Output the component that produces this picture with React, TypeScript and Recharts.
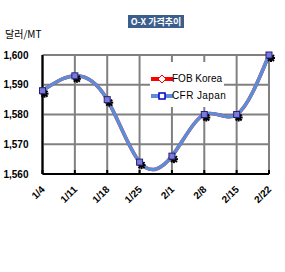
import { LineChart, Line, XAxis, YAxis, CartesianGrid, Legend } from 'recharts';

const WEEKS = ['1/4', '1/11', '1/18', '1/25', '2/1', '2/8', '2/15', '2/22'];
const FOB_KOREA = [1588, 1593, 1585, 1564, 1566, 1580, 1580, 1600];
const CFR_JAPAN = [1588, 1593, 1585, 1564, 1566, 1580, 1580, 1600];
const Y_TICKS = [1560, 1570, 1580, 1590, 1600];

const data = WEEKS.map((week, i) => ({ week, fob: FOB_KOREA[i], cfr: CFR_JAPAN[i] }));

const BLUE = '#5b8ed6';
const FONT = '"Liberation Sans", Arial, sans-serif';

function WeekTick({ x, y, payload }: any) {
  const ax = x + 3;
  const ay = y + 20;
  return (
    <text x={ax} y={ay} textAnchor="end" transform={`rotate(-45 ${ax} ${ay})`} fontFamily={FONT} fontSize={10} fontWeight="bold" fill="#000">
      {payload.value}
    </text>
  );
}

function StarDot({ cx, cy }: any) {
  if (cx == null || cy == null) return null;
  const x = cx + 2;
  const y = cy + 3;
  return (
    <g stroke="#000" strokeWidth={2}>
      <line x1={x - 4} y1={y} x2={x + 4} y2={y} />
      <line x1={x} y1={y - 4} x2={x} y2={y + 4} />
      <line x1={x - 3} y1={y - 3} x2={x + 3} y2={y + 3} />
      <line x1={x - 3} y1={y + 3} x2={x + 3} y2={y - 3} />
    </g>
  );
}

function SquareDot({ cx, cy }: any) {
  if (cx == null || cy == null) return null;
  return <rect x={cx - 3} y={cy - 3} width={6} height={6} fill="#7b7bd6" stroke="#23237e" strokeWidth={1} />;
}

function LegendBox() {
  return (
    <div style={{ background: '#fff', width: 74, height: 45, fontFamily: FONT, fontSize: 10, color: '#000', whiteSpace: 'nowrap' }}>
      <div style={{ position: 'relative', height: 17 }}>
        <svg width={22} height={10} style={{ position: 'absolute', left: 1, top: 12 }}>
          <line x1={0} y1={5} x2={22} y2={5} stroke="#ff0000" strokeWidth={4} />
          <path d="M11 1 L15 5 L11 9 L7 5 Z" fill="#fff" stroke="#ff0000" strokeWidth={1} />
        </svg>
        <span style={{ position: 'absolute', left: 22, top: 11, lineHeight: '12px' }}>FOB Korea</span>
      </div>
      <div style={{ position: 'relative', height: 18 }}>
        <svg width={22} height={10} style={{ position: 'absolute', left: 1, top: 12 }}>
          <line x1={0} y1={5} x2={22} y2={5} stroke={BLUE} strokeWidth={4} />
          <rect x={8} y={2} width={6} height={6} fill="#fff" stroke="#0000cc" strokeWidth={1.5} />
        </svg>
        <span style={{ position: 'absolute', left: 22, top: 11, lineHeight: '12px', letterSpacing: 0.4 }}>CFR Japan</span>
      </div>
    </div>
  );
}

export default function App() {
  return (
    <div style={{ position: 'absolute', left: 0, top: 0, width: 285, height: 272, background: '#fff' }}>
      <div
        style={{
          position: 'absolute', left: 128, top: 15, width: 56, height: 13, background: '#3b5e8c', color: '#fff',
          fontFamily: '"Noto Sans CJK KR", sans-serif', fontSize: 9, fontWeight: 'bold', lineHeight: '13px',
          textAlign: 'center', whiteSpace: 'nowrap', zIndex: 2,
        }}
      >
        O-X 가격추이
      </div>
      <div
        style={{
          position: 'absolute', left: 5, top: 26, fontFamily: '"Noto Sans CJK KR", sans-serif', fontSize: 10,
          color: '#000', whiteSpace: 'nowrap', zIndex: 2,
        }}
      >
        달러/MT
      </div>
      <LineChart width={285} height={272} data={data} margin={{ top: 55, right: 16, left: 0, bottom: 0 }}>
        <CartesianGrid stroke="#808080" strokeWidth={2} />
        <XAxis
          dataKey="week"
          height={53}
          interval={0}
          tick={<WeekTick />}
          tickSize={-4}
          tickMargin={0}
          tickLine={{ stroke: '#000', strokeWidth: 2 }}
          axisLine={{ stroke: '#000', strokeWidth: 2 }}
        />
        <YAxis
          width={42.5}
          domain={[1560, 1600]}
          ticks={Y_TICKS}
          tickFormatter={(v: number) => v.toLocaleString('en-US')}
          tickSize={0}
          tickMargin={14}
          tick={{ fontFamily: FONT, fontSize: 10, fontWeight: 'bold', fill: '#000' }}
          axisLine={{ stroke: '#000', strokeWidth: 2 }}
        />
        <Legend content={<LegendBox />} wrapperStyle={{ position: 'absolute', left: 150, top: 62, width: 74, height: 45 }} />
        <Line type="natural" dataKey="fob" name="FOB Korea" stroke="#ff0000" strokeWidth={3.5} dot={<StarDot />} isAnimationActive={false} />
        <Line type="natural" dataKey="cfr" name="CFR Japan" stroke={BLUE} strokeWidth={3.5} dot={<SquareDot />} isAnimationActive={false} />
      </LineChart>
    </div>
  );
}
